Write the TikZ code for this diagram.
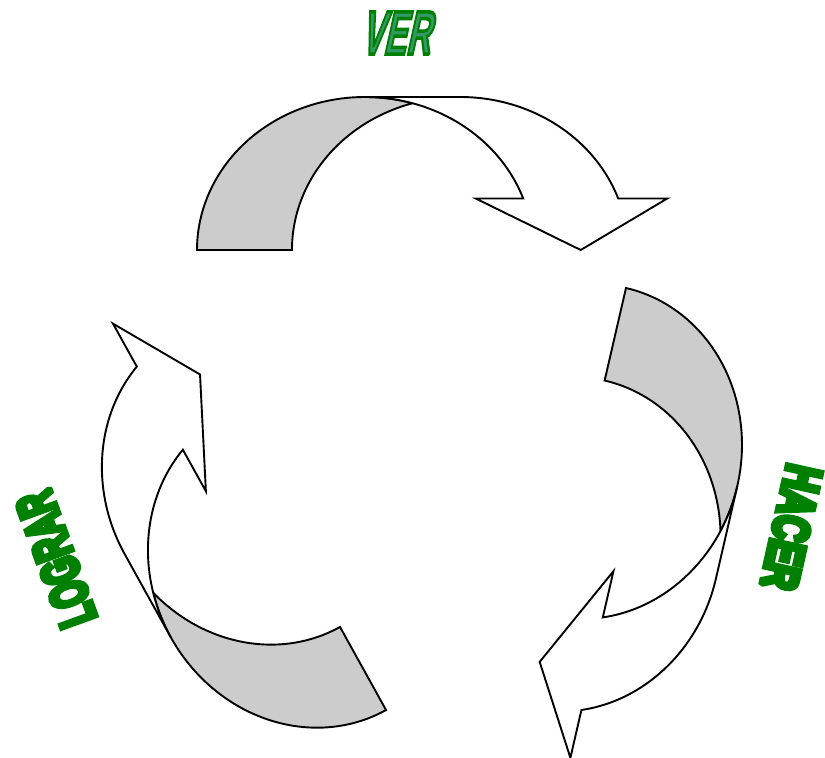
\documentclass[tikz,border=0pt]{standalone}
\usepackage{fontspec}
\setmainfont{Liberation Sans}
\definecolor{backgray}{HTML}{CCCCCC}
\definecolor{vergreen}{HTML}{339966}
\definecolor{wagreen}{HTML}{008000}
\newcommand{\heavytext}[3]{\scalebox{#1}[1]{\special{pdf:literal direct 2 Tr #2 w 2 M 0 0.502 0 RG}#3\special{pdf:literal direct 0 Tr}}}
\tikzset{
  backpart/.style={fill=backgray, draw=black, line width=1.9pt},
  frontpart/.style={fill=white, draw=black, line width=1.9pt},
  wordart/.style={inner sep=0pt, font=\bfseries\fontsize{#1}{#1}\selectfont, text=wagreen},
  cyclearrow/.pic={
    \path[backpart] (-168,0)
      arc[start angle=180, end angle=73.58, x radius=168, y radius=153]
      arc[start angle=106.42, end angle=180, x radius=168, y radius=153]
      -- cycle;
    \path[frontpart] (0,153) -- (95,153)
      arc[start angle=90, end angle=19.67, x radius=168, y radius=153]
      -- (302.3,51.5) -- (215.7,0) -- (110.7,51.5) -- (158.2,51.5)
      arc[start angle=19.67, end angle=90, x radius=168, y radius=153]
      -- cycle;
  }
}
\begin{document}
\begin{tikzpicture}[x=1pt,y=1pt]
\useasboundingbox (0,0) rectangle (825,758);
\pic (toparrow) at (365,508) {cyclearrow};
\pic[rotate=-103] (rightarrow) at (588.2,306.3) {cyclearrow};
\pic[rotate=119] (leftarrow) at (304.6,194.9) {cyclearrow};
\node[wordart=61.5, text=vergreen, xslant=0.22] (ver) at (400,725)
  {\heavytext{0.55}{3.5}{VER}};
\node[wordart=50, rotate=-102.5] (hacer) at (791.5,230.5) {\heavytext{0.71}{6}{HACER}};
\node[wordart=52, rotate=110] (lograr) at (56,199) {\heavytext{0.62}{6}{LOGRAR}};
\end{tikzpicture}
\end{document}
